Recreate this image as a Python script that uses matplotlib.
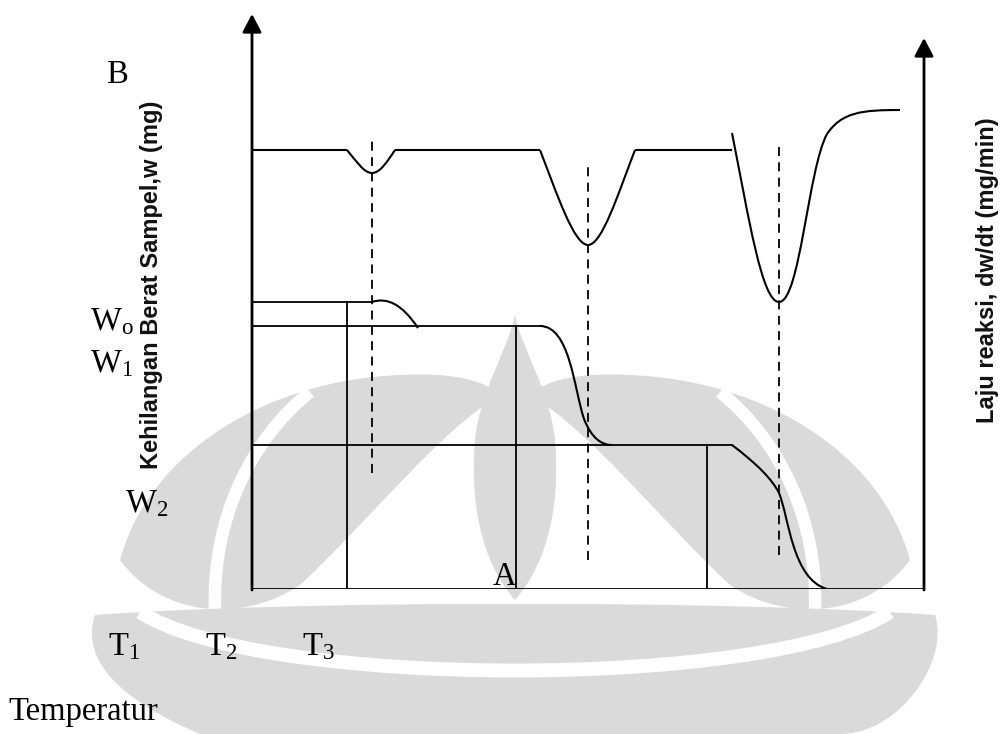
import numpy as np
import matplotlib.pyplot as plt
from matplotlib.path import Path
from matplotlib.patches import PathPatch

plt.rcParams['font.family'] = 'Liberation Serif'
plt.rcParams['mathtext.fontset'] = 'custom'
plt.rcParams['mathtext.rm'] = 'Liberation Serif'

# temperatur (skala bebas) dan tinggi sinyal (skala bebas)
dtg_base = 439
dtg_flat = [(0, 95), (143, 288), (383, 480)]   # bagian datar kurva dw/dt
# puncak dw/dt: (awal, ctrl1, ctrl2, minimum, ctrl3, ctrl4, akhir)
dtg_peak1 = [(95, 439), (105, 427), (112, 416), (120, 416), (128, 416), (135, 427), (143, 439)]
dtg_peak2 = [(288, 439), (305, 395), (322, 344), (336, 344), (350, 344), (366, 395), (383, 439)]
dtg_peak3 = [(480, 456), (497, 370), (510, 287), (527, 287), (548, 287), (556, 420), (575, 455)]
dtg_tail = [(575, 455), (590, 477), (610, 479), (648, 479)]
peak_T = [120, 336, 527]
peak_dash = [(116, 452), (29, 426), (34, 442)]

# tingkat berat sampel
W0, W1, W2 = 287, 263, 144
step_T = [95, 264, 455]             # garis vertikal T1, T2, T3
w_drop1 = [(120, 287), (135, 292), (150, 285), (166, 261)]
w_drop2 = [(288, 263), (318, 263), (322, 200), (332, 170), (340, 150), (350, 144), (360, 144)]
w_drop3 = [(480, 144), (505, 125), (520, 110), (527, 96), (537, 72), (540, 10), (575, 0)]


def bez(pts, closed=False):
    codes = [Path.MOVETO] + [Path.CURVE4] * (len(pts) - 1)
    if closed:
        pts = list(pts) + [pts[0]]
        codes = codes + [Path.CLOSEPOLY]
    return Path(pts, codes)


fig = plt.figure(figsize=(10.02, 7.34), dpi=100)

# logo samar di latar (watermark)
bg = fig.add_axes([0, 0, 1, 1])
bg.set_xlim(0, 1002)
bg.set_ylim(734, 0)
bg.axis('off')
wm = '#dadada'
flame = [(515, 315), (522, 350), (550, 390), (555, 440), (560, 500), (550, 560), (515, 600),
         (480, 560), (470, 500), (475, 440), (480, 390), (508, 350), (515, 315)]
bg.add_patch(PathPatch(bez(flame, True), fc=wm, ec='none'))
leaf = [(120, 560), (150, 450), (270, 380), (400, 375), (450, 372), (485, 380), (500, 395),
        (440, 430), (370, 520), (300, 585), (240, 625), (160, 615), (120, 560)]
for s in [1, -1]:
    pts = [(515 + s * (x - 515), y) for x, y in leaf]
    bg.add_patch(PathPatch(bez(pts, True), fc=wm, ec='none'))
    stripe = [(515 + s * (x - 515), y) for x, y in [(215, 610), (212, 520), (250, 440), (310, 392)]]
    bg.add_patch(PathPatch(bez(stripe), fc='none', ec='white', lw=9))
bottom = [(95, 615), (300, 600), (730, 600), (935, 615), (950, 660), (900, 734), (840, 734),
          (600, 734), (400, 734), (200, 734), (120, 700), (80, 660), (95, 615)]
bg.add_patch(PathPatch(bez(bottom, True), fc=wm, ec='none'))
bg.add_patch(PathPatch(bez([(140, 612), (260, 690), (770, 690), (890, 612)]), fc='none', ec='white', lw=10))

ax = fig.add_axes([252 / 1002, 145 / 734, 672 / 1002, 575 / 734], facecolor='none')
ax.set_xlim(0, 672)
ax.set_ylim(0, 575)
ax.axis('off')

lw_c = 1.5
# kurva dw/dt
for a, b in dtg_flat:
    ax.plot([a, b], [dtg_base, dtg_base], color='k', lw=lw_c, solid_capstyle='butt')
for pk in [dtg_peak1, dtg_peak2, dtg_peak3, dtg_tail]:
    ax.add_patch(PathPatch(bez(pk), fc='none', ec='k', lw=lw_c))
for t, (y0, y1) in zip(peak_T, peak_dash):
    ax.plot([t, t], [y0, y1], color='k', lw=1.3, ls=(0, (5, 3.5)))

# kurva berat
ax.plot([0, 120], [W0, W0], color='k', lw=1.3)
ax.plot([0, 288], [W1, W1], color='k', lw=1.3)
ax.plot([0, 480], [W2, W2], color='k', lw=1.3)
for t, top in zip(step_T, [W0, W1, W2]):
    ax.plot([t, t], [0, top], color='k', lw=1.3)
for c in [w_drop1, w_drop2, w_drop3]:
    ax.add_patch(PathPatch(bez(c), fc='none', ec='k', lw=lw_c))

# sumbu
ax.plot([0, 672], [0, 0], color='k', lw=2, solid_capstyle='butt')
for x, top in [(0, 575), (672, 551)]:
    ax.annotate('', xy=(x, top), xytext=(x, -1),
                arrowprops=dict(arrowstyle='-|>,head_length=0.55,head_width=0.29',
                                lw=2, color='k', mutation_scale=20, shrinkA=0, shrinkB=0))

# teks
ov = fig.add_axes([0, 0, 1, 1], facecolor='none')
ov.set_xlim(0, 1002)
ov.set_ylim(734, 0)
ov.axis('off')
fs = 23.5
ov.text(107, 83, 'B', fontsize=fs, va='baseline')
ov.text(493, 585, 'A', fontsize=fs, va='baseline')
ov.text(90, 330, r'$\mathregular{W_o}$', fontsize=fs, va='baseline')
ov.text(90, 372, r'$\mathregular{W_1}$', fontsize=fs, va='baseline')
ov.text(125, 512, r'$\mathregular{W_2}$', fontsize=fs, va='baseline')
for x, s in zip([108, 205, 302], ['1', '2', '3']):
    ov.text(x, 655, r'$\mathregular{T_%s}$' % s, fontsize=fs, va='baseline')
ov.text(8, 720, 'Temperatur', fontsize=fs, va='baseline')
ov.text(152, 285, 'Kehilangan Berat Sampel,w (mg)', family='Liberation Sans',
        weight='bold', fontsize=17, rotation=90, ha='center', va='center', color='#111111')
ov.text(988, 270, 'Laju reaksi, dw/dt (mg/min)', family='Liberation Sans',
        weight='bold', fontsize=17, rotation=90, ha='center', va='center', color='#111111')

fig.savefig('out.png', dpi=100)
